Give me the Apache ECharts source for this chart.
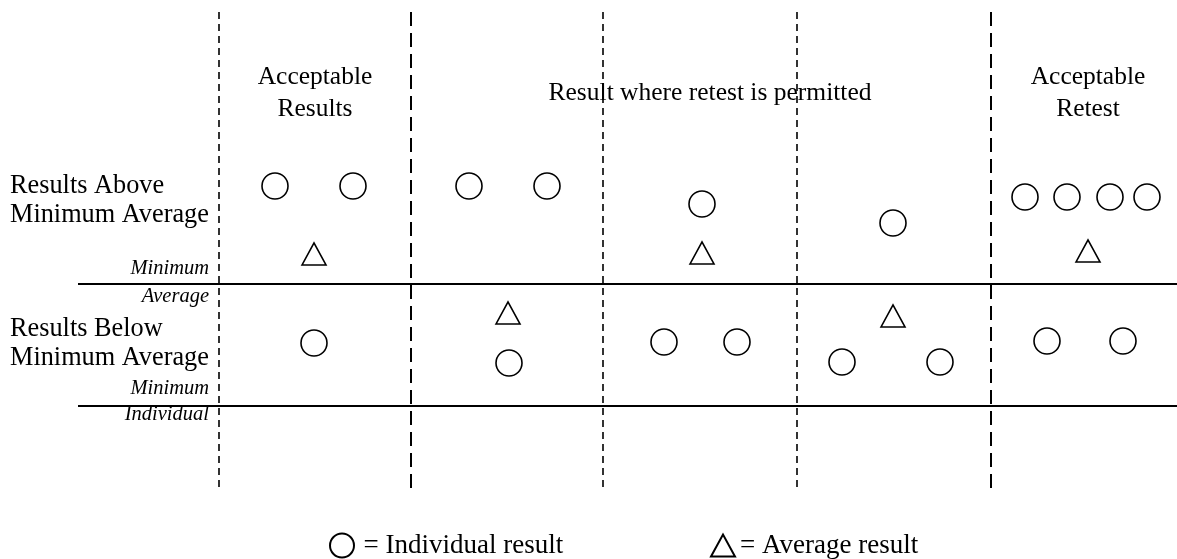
<!DOCTYPE html>
<html>
<head>
<meta charset="utf-8">
<script src="https://cdn.jsdelivr.net/npm/echarts@6/dist/echarts.min.js"></script>
<style>html,body{margin:0;padding:0;background:#fff}#c{width:1177px;height:559px}</style>
</head>
<body>
<div id="c"></div>
<script>
// Diagram units: x 0..1177, y 0..559 (top to bottom)
const individualResults = [
  [275,186],[353,186],[469,186],[547,186],[702,204],[893,223],
  [1025,197],[1067,197],[1110,197],[1147,197],
  [314,343],[509,363],[664,342],[737,342],[842,362],[940,362],[1047,341],[1123,341]
];
const averageResults = [[314,254],[702,253],[1088,251],[508,313],[893,316]];
const thinDividers = [219, 603, 797];
const thickDividers = [411, 991];
const dividerTop = 12, dividerBottom = 492;
const limitLines = [283.5, 405.5];
const limitStart = 78, limitEnd = 1177;
const headers = [
  {name: 'Acceptable\nResults', value: [315, 93]},
  {name: 'Result where retest is permitted', value: [710, 93]},
  {name: 'Acceptable\nRetest', value: [1088, 93]}
];
const rowLabels = [
  {name: 'Results Above\nMinimum Average', value: [10, 201]},
  {name: 'Results Below\nMinimum Average', value: [10, 344]}
];
const limitLabels = [
  {name: 'Minimum', value: [209, 269]},
  {name: 'Average', value: [209, 297]},
  {name: 'Minimum', value: [209, 389]},
  {name: 'Individual', value: [209, 415]}
];
const legendNames = ['Individual result', 'Average result'];

const serif = '"Liberation Serif","Times New Roman",serif';
const tri = 'path://M0,22L12,0L24,22Z';

function vLines(xs) { return xs.map(x => [{coord: [x, dividerTop]}, {coord: [x, dividerBottom]}]); }
function hLines(ys) { return ys.map(y => [{coord: [limitStart, y]}, {coord: [limitEnd, y]}]); }

const legendBase = {
  top: 532, padding: 0, itemHeight: 24,
  selectedMode: false, formatter: '= {name}',
  textStyle: {fontFamily: serif, fontSize: 27, color: '#000'}
};

const chart = echarts.init(document.getElementById('c'));
chart.setOption({
  animation: false,
  backgroundColor: '#fff',
  grid: {left: 0, right: 0, top: 0, bottom: 0},
  xAxis: {type: 'value', min: 0, max: 1177, show: false},
  yAxis: {type: 'value', min: 0, max: 559, inverse: true, show: false},
  legend: [
    Object.assign({}, legendBase, {data: [legendNames[0]], left: 329, itemWidth: 33}),
    Object.assign({}, legendBase, {data: [legendNames[1]], left: 710, itemWidth: 24})
  ],
  series: [
    {
      name: legendNames[0], type: 'scatter', symbol: 'circle', symbolSize: 26,
      itemStyle: {color: '#fff', borderColor: '#000', borderWidth: 1.6, opacity: 1},
      data: individualResults, silent: true,
      markLine: {
        silent: true, symbol: 'none', label: {show: false}, animation: false,
        data: [].concat(
          vLines(thinDividers).map(d => (d[0].lineStyle = {type: [7, 5], width: 1.6, color: '#000'}, d)),
          vLines(thickDividers).map(d => (d[0].lineStyle = {type: [14, 7], width: 2, color: '#000'}, d)),
          hLines(limitLines).map(d => (d[0].lineStyle = {type: 'solid', width: 2, color: '#000'}, d))
        )
      }
    },
    {
      name: legendNames[1], type: 'scatter', symbol: tri, symbolSize: [24, 22],
      itemStyle: {color: '#fff', borderColor: '#000', borderWidth: 1.6, opacity: 1},
      data: averageResults, silent: true
    },
    {
      type: 'scatter', symbolSize: 0, silent: true, data: headers, itemStyle: {opacity: 1},
      label: {show: true, position: 'inside', formatter: '{b}', align: 'center', verticalAlign: 'middle',
        fontFamily: serif, fontSize: 25.5, lineHeight: 32, color: '#000', opacity: 1}
    },
    {
      type: 'scatter', symbolSize: 0, silent: true, data: rowLabels, itemStyle: {opacity: 1},
      label: {show: true, position: 'inside', formatter: '{b}', align: 'left', verticalAlign: 'middle',
        fontFamily: serif, fontSize: 26.3, lineHeight: 29, color: '#000', opacity: 1}
    },
    {
      type: 'scatter', symbolSize: 0, silent: true, data: limitLabels, itemStyle: {opacity: 1},
      label: {show: true, position: 'inside', formatter: '{b}', align: 'right', verticalAlign: 'middle',
        fontFamily: serif, fontStyle: 'italic', fontSize: 20.5, color: '#000', opacity: 1}
    }
  ]
});
</script>
</body>
</html>
